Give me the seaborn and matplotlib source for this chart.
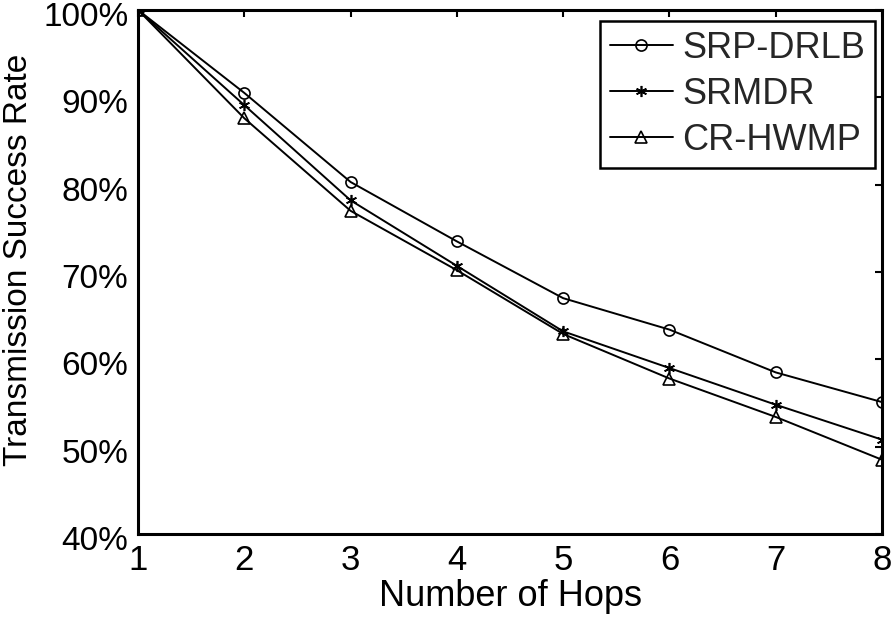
import matplotlib
matplotlib.use("Agg")
import matplotlib.pyplot as plt
import matplotlib.transforms as mtransforms
import seaborn as sns
import pandas as pd
from matplotlib.ticker import FuncFormatter

hops = [1, 2, 3, 4, 5, 6, 7, 8]
srp_drlb = [100.0, 90.5, 80.3, 73.5, 67.0, 63.4, 58.5, 55.1]
srmdr = [100.0, 89.1, 78.2, 70.7, 63.2, 59.0, 54.8, 50.8]
cr_hwmp = [100.0, 87.6, 77.0, 70.2, 62.9, 57.8, 53.4, 48.5]
series_names = ["SRP-DRLB", "SRMDR", "CR-HWMP"]
yticks = [40, 50, 60, 70, 80, 90, 100]

sns.set_theme(style="white")
plt.rcParams["font.family"] = ["Liberation Sans", "DejaVu Sans"]

fig = plt.figure(figsize=(8.94, 6.22), dpi=100)
ax = fig.add_axes([0.1544, 0.1415, 0.8322, 0.8425])

marker_list = ["o", (6, 2, 0), "^"]
marker_sizes = [10, 10, 12]
for name, vals, mk, ms in zip(series_names, [srp_drlb, srmdr, cr_hwmp], marker_list, marker_sizes):
    df = pd.DataFrame({"hops": hops, "rate": vals})
    sns.lineplot(data=df, x="hops", y="rate", color="black", marker=mk,
                 linewidth=1.4, markersize=ms,
                 markerfacecolor="none", markeredgecolor="black",
                 markeredgewidth=1.4, label=name, ax=ax)

ax.set_xlim(1, 8)
ax.set_ylim(40, 100)
ax.set_xticks(hops)
ax.set_yticks(yticks)
ax.yaxis.set_major_formatter(FuncFormatter(lambda v, p: f"{int(v)}%"))
ax.tick_params(direction="in", length=5, width=1.5, labelsize=25,
               top=True, right=True, colors="black", labelcolor="black", pad=7)
ax.tick_params(axis="y", labelsize=24)
for s in ax.spines.values():
    s.set_visible(True)
    s.set_linewidth(2.2)
    s.set_color("black")
ax.set_xlabel("Number of Hops", fontsize=26, labelpad=2, color="black")
ax.set_ylabel("Transmission Success Rate", fontsize=24, color="black")
ax.yaxis.set_label_coords(-0.1398, 0.523)

# shift y tick labels slightly downward, as in the reference
offset = mtransforms.ScaledTranslation(0, -4 / 100, fig.dpi_scale_trans)
for lbl in ax.get_yticklabels():
    lbl.set_transform(lbl.get_transform() + offset)

handles, labels = ax.get_legend_handles_labels()
for h in handles:
    h.set_markersize(8)
    h.set_markeredgewidth(1.2)
leg = ax.legend(handles, labels, loc="upper right", fontsize=26, frameon=True,
                fancybox=False, edgecolor="black", framealpha=1,
                handlelength=1.75, handletextpad=0.25, borderpad=0.28,
                labelspacing=0.3, borderaxespad=0,
                bbox_to_anchor=(0.9906, 0.979))
leg.get_frame().set_linewidth(1.8)

fig.savefig("out.png", dpi=100)
